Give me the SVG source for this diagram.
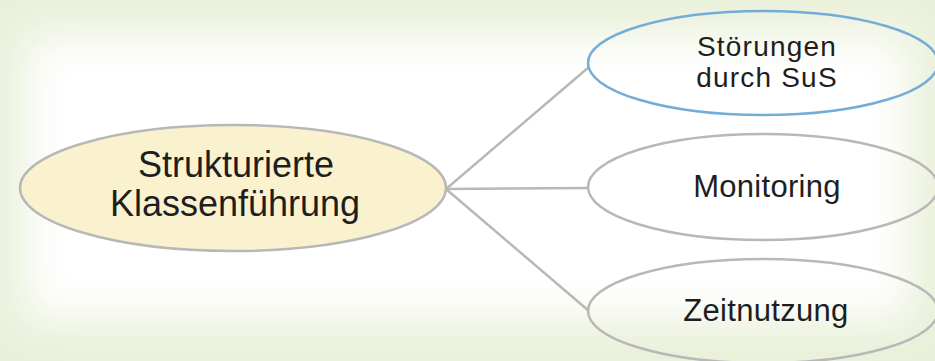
<svg xmlns="http://www.w3.org/2000/svg" width="935" height="361" viewBox="0 0 935 361">
  <defs>
    <filter id="soft" x="-20%" y="-20%" width="140%" height="140%">
      <feGaussianBlur stdDeviation="22"/>
    </filter>
    <style>
      .node { stroke: #b8b8b8; stroke-width: 2.5; fill: none; }
      .center { fill: #faf2cf; }
      .blue { stroke: #74acd8; }
      .conn { stroke: #b8b8b8; stroke-width: 2.5; fill: none; }
      text { font-family: "Liberation Sans", Arial, sans-serif; fill: #1e1e1e; text-anchor: middle; }
      .big { font-size: 36px; }
      .small { font-size: 31px; letter-spacing: 0.3px; }
      .two { font-size: 28px; letter-spacing: 1.2px; }
    </style>
  </defs>
  <rect x="0" y="0" width="935" height="361" fill="#e9f0d9"/>
  <rect x="25" y="35" width="885" height="285" fill="#ffffff" filter="url(#soft)"/>

  <g id="connectors">
    <line class="conn" x1="446" y1="189" x2="589" y2="67"/>
    <line class="conn" x1="446" y1="189" x2="589" y2="188"/>
    <line class="conn" x1="446" y1="189" x2="589" y2="311"/>
  </g>

  <g id="node-center">
    <ellipse class="node center" cx="233" cy="188" rx="213" ry="63"/>
    <text class="big" x="236" y="177">Strukturierte</text>
    <text class="big" x="235" y="216">Klassenführung</text>
  </g>

  <g id="node-stoerungen">
    <ellipse class="node blue" cx="763" cy="63" rx="175" ry="52"/>
    <text class="two" x="767" y="56">Störungen</text>
    <text class="two" x="767" y="87">durch SuS</text>
  </g>

  <g id="node-monitoring">
    <ellipse class="node" cx="763" cy="187" rx="175" ry="53"/>
    <text class="small" x="767" y="197">Monitoring</text>
  </g>

  <g id="node-zeitnutzung">
    <ellipse class="node" cx="763" cy="311" rx="175" ry="52"/>
    <text class="small" x="766" y="321">Zeitnutzung</text>
  </g>
</svg>
